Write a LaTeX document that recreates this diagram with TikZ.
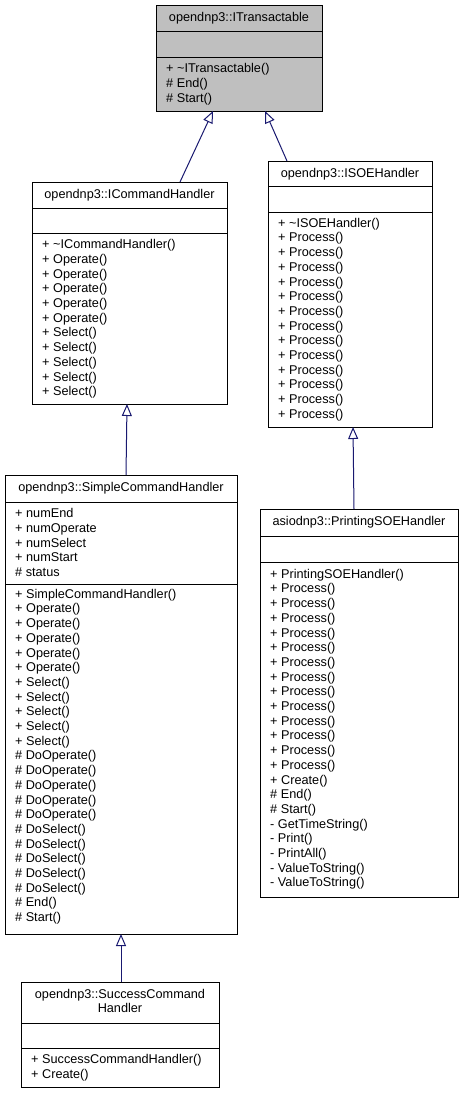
\documentclass[tikz,border=0pt]{standalone}
\usepackage{fontspec}
\setmainfont{Liberation Sans}
\usetikzlibrary{arrows.meta}
\definecolor{edgeblue}{HTML}{191970}
\definecolor{topgray}{HTML}{BFBFBF}
\newcommand\umlfont{\fontsize{12.7}{14.7}\selectfont}
\newcommand\fs{\rule{0pt}{10pt}}
\newcommand\tl{\textasciitilde}
\begin{document}
\begin{tikzpicture}[x=1pt,y=-1pt,
  classbox/.style={draw=black, line width=1pt, fill=white, anchor=north west, inner sep=0pt, outer sep=0pt},
  sepline/.style={draw=black, line width=1pt},
  title/.style={anchor=north, inner sep=0pt, align=center, font=\umlfont},
  members/.style={anchor=north west, inner sep=0pt, align=left, font=\umlfont},
  inh/.style={draw=edgeblue, line width=1pt, -{Triangle[open, length=12pt, width=10pt, fill=white]}},
]
\useasboundingbox[fill=white] (0,0) rectangle (464,1095);

% ITransactable
\node[classbox, fill=topgray, minimum width=166pt, minimum height=106pt] (it) at (156,5) {};
\draw[sepline] (156,31) -- (322,31);
\draw[sepline] (156,57) -- (322,57);
\node[title] (it-t) at (239,11.5) {\fs opendnp3::ITransactable};
\node[members] (it-m) at (166,62.5) {\fs + \tl ITransactable()\\\# End()\\\# Start()};

% ICommandHandler
\node[classbox, minimum width=195pt, minimum height=222pt] (ich) at (32,182) {};
\draw[sepline] (32,208) -- (227,208);
\draw[sepline] (32,233) -- (227,233);
\node[title] (ich-t) at (129.5,188.5) {\fs opendnp3::ICommandHandler};
\node[members] (ich-m) at (42,238.5) {\fs + \tl ICommandHandler()\\+ Operate()\\+ Operate()\\+ Operate()\\+ Operate()\\+ Operate()\\+ Select()\\+ Select()\\+ Select()\\+ Select()\\+ Select()};

% ISOEHandler
\node[classbox, minimum width=164pt, minimum height=266pt] (isoe) at (268,161) {};
\draw[sepline] (268,186) -- (432,186);
\draw[sepline] (268,212) -- (432,212);
\node[title] (isoe-t) at (350,167.5) {\fs opendnp3::ISOEHandler};
\node[members] (isoe-m) at (278,217) {\fs + \tl ISOEHandler()\\+ Process()\\+ Process()\\+ Process()\\+ Process()\\+ Process()\\+ Process()\\+ Process()\\+ Process()\\+ Process()\\+ Process()\\+ Process()\\+ Process()\\+ Process()};

% SimpleCommandHandler
\node[classbox, minimum width=232pt, minimum height=459pt] (sch) at (5,475) {};
\draw[sepline] (5,502) -- (237,502);
\draw[sepline] (5,584) -- (237,584);
\node[title] (sch-t) at (121,481.5) {\fs opendnp3::SimpleCommandHandler};
\node[members] (sch-a) at (15,507.5) {\fs + numEnd\\+ numOperate\\+ numSelect\\+ numStart\\\# status};
\node[members] (sch-m) at (15,588) {\fs + SimpleCommandHandler()\\+ Operate()\\+ Operate()\\+ Operate()\\+ Operate()\\+ Operate()\\+ Select()\\+ Select()\\+ Select()\\+ Select()\\+ Select()\\\# DoOperate()\\\# DoOperate()\\\# DoOperate()\\\# DoOperate()\\\# DoOperate()\\\# DoSelect()\\\# DoSelect()\\\# DoSelect()\\\# DoSelect()\\\# DoSelect()\\\# End()\\\# Start()};

% PrintingSOEHandler
\node[classbox, minimum width=198pt, minimum height=388pt] (psoe) at (260,509) {};
\draw[sepline] (260,536) -- (458,536);
\draw[sepline] (260,562) -- (458,562);
\node[title] (psoe-t) at (359,515.5) {\fs asiodnp3::PrintingSOEHandler};
\node[members] (psoe-m) at (270,568) {\fs + PrintingSOEHandler()\\+ Process()\\+ Process()\\+ Process()\\+ Process()\\+ Process()\\+ Process()\\+ Process()\\+ Process()\\+ Process()\\+ Process()\\+ Process()\\+ Process()\\+ Process()\\+ Create()\\\# End()\\\# Start()\\- GetTimeString()\\- Print()\\- PrintAll()\\- ValueToString()\\- ValueToString()};

% SuccessCommandHandler
\node[classbox, minimum width=198pt, minimum height=105pt] (scch) at (21,982) {};
\draw[sepline] (21,1023) -- (219,1023);
\draw[sepline] (21,1048) -- (219,1048);
\node[title] (scch-t) at (120,988) {\fs opendnp3::SuccessCommand\\Handler};
\node[members] (scch-m) at (31,1053.5) {\fs + SuccessCommandHandler()\\+ Create()};

% inheritance connectors
\draw[inh] ([xshift=148pt]ich.north west) -- ([xshift=57pt]it.south west);
\draw[inh] ([xshift=19pt]isoe.north west) -- ([xshift=109pt]it.south west);
\draw[inh] ([xshift=121pt]sch.north west) -- ([xshift=95pt]ich.south west);
\draw[inh] ([xshift=94pt]psoe.north west) -- ([xshift=85pt]isoe.south west);
\draw[inh] ([xshift=100pt]scch.north west) -- ([xshift=116pt]sch.south west);
\end{tikzpicture}
\end{document}
